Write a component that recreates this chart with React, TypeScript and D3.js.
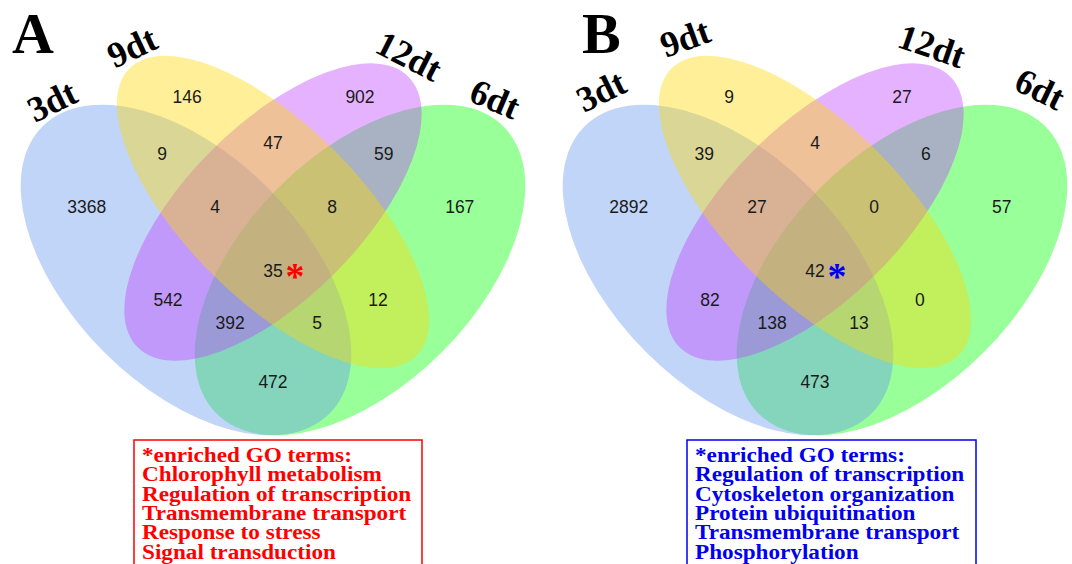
import React from 'react';
import * as d3 from 'd3';

// ---- data ----
const categories = ['3dt', '9dt', '12dt', '6dt'];
const regionKeys = ['A', 'B', 'C', 'D', 'AB', 'BC', 'CD', 'ABC', 'BCD', 'ABCD', 'AC', 'BD', 'ACD', 'ABD', 'AD'];
const countsA = [3368, 146, 902, 167, 9, 47, 59, 4, 8, 35, 542, 12, 392, 5, 472];
const countsB = [2892, 9, 27, 57, 39, 4, 6, 27, 0, 42, 82, 0, 138, 13, 473];
const goTermsA = ['Chlorophyll metabolism', 'Regulation of transcription', 'Transmembrane transport', 'Response to stress', 'Signal transduction'];
const goTermsB = ['Regulation of transcription', 'Cytoskeleton organization', 'Protein ubiquitination', 'Transmembrane transport', 'Phosphorylation'];
const goHeader = '*enriched GO terms:';
const panelLetters = ['A', 'B'];

// ---- layout (unit venn coordinates, y up) ----
const setColors = ['#6495ED', '#FFD700', '#BF3EFF', '#00FF00'];
const ellipses = [
  { cx: 0.35, cy: 0.47, a: 0.35, b: 0.2, rot: 45 },
  { cx: 0.5, cy: 0.57, a: 0.35, b: 0.15, rot: 45 },
  { cx: 0.5, cy: 0.57, a: 0.33, b: 0.15, rot: -45 },
  { cx: 0.65, cy: 0.47, a: 0.35, b: 0.2, rot: -45 },
];
const drawOrder = [3, 0, 2, 1];
const regionPos: Record<string, [number, number]> = {
  A: [0.179, 0.579], B: [0.352, 0.768], C: [0.65, 0.768], D: [0.822, 0.579],
  AB: [0.309, 0.67], BC: [0.5, 0.689], CD: [0.691, 0.67],
  ABC: [0.4, 0.579], BCD: [0.602, 0.579], ABCD: [0.5, 0.468],
  AC: [0.319, 0.418], BD: [0.681, 0.418], ACD: [0.426, 0.379], ABD: [0.576, 0.379], AD: [0.5, 0.277],
};

const panels = [
  {
    cx: 273, counts: countsA, terms: goTermsA, color: '#ff0000', letterX: 12,
    boxX: 134, boxW: 288,
    cat: [[52, 101, -26], [132, 47, -25], [409, 56, 27], [495, 99, 23]],
  },
  {
    cx: 815, counts: countsB, terms: goTermsB, color: '#0000ee', letterX: 582,
    boxX: 687, boxW: 289,
    cat: [[601, 91, -26], [685, 38, -20], [932, 46, 19], [1040, 89, 26]],
  },
];

const W = 1072;
const H = 564;
const S = 580;

function Panel({ p, idx }: { p: typeof panels[0]; idx: number }) {
  const x = d3.scaleLinear().domain([0, 1]).range([p.cx - S / 2, p.cx + S / 2]);
  const y = d3.scaleLinear().domain([0, 1]).range([542.6, 542.6 - S]);
  const len = (v: number) => x(v) - x(0);
  const lineH = 19.3;
  return (
    <g>
      {drawOrder.map((i) => {
        const e = ellipses[i];
        return (
          <ellipse
            key={i}
            transform={`translate(${x(e.cx)},${y(e.cy)}) rotate(${e.rot})`}
            rx={len(e.a)}
            ry={len(e.b)}
            fill={setColors[i]}
            fillOpacity={0.4}
          />
        );
      })}
      {regionKeys.map((k, i) => {
        const [ux, uy] = regionPos[k];
        return (
          <text
            key={k}
            x={x(ux)}
            y={y(uy)}
            dy="0.36em"
            textAnchor="middle"
            fontFamily="'Liberation Sans', Arial, sans-serif"
            fontSize={17.5}
            fill="#1a1a1a"
          >
            {p.counts[i]}
          </text>
        );
      })}
      <text
        x={x(regionPos.ABCD[0]) + 22}
        y={y(regionPos.ABCD[1]) + 18}
        textAnchor="middle"
        fontFamily="'Liberation Serif', 'Times New Roman', serif"
        fontWeight="bold"
        fontSize={38}
        fill={p.color}
      >
        *
      </text>
      {categories.map((c, i) => (
        <text
          key={c}
          transform={`translate(${p.cat[i][0]},${p.cat[i][1]}) rotate(${p.cat[i][2]})`}
          dy="0.34em"
          textAnchor="middle"
          fontFamily="'Liberation Serif', 'Times New Roman', serif"
          fontWeight="bold"
          fontSize={36}
          fill="#000"
        >
          {c}
        </text>
      ))}
      <text
        x={p.letterX}
        y={53}
        fontFamily="'Liberation Serif', 'Times New Roman', serif"
        fontWeight="bold"
        fontSize={58}
        fill="#000"
      >
        {panelLetters[idx]}
      </text>
      <rect x={p.boxX} y={440} width={p.boxW} height={140} fill="#fff" stroke={p.color} strokeWidth={1.5} />
      {[goHeader, ...p.terms].map((t, i) => (
        <text
          key={i}
          transform={`translate(${p.boxX + 8},${462 + i * lineH}) scale(1.16,1)`}
          fontFamily="'Liberation Serif', 'Times New Roman', serif"
          fontWeight="bold"
          fontSize={20}
          fill={p.color}
        >
          {t}
        </text>
      ))}
    </g>
  );
}

export default function App() {
  return (
    <svg
      width={W}
      height={H}
      viewBox={`0 0 ${W} ${H}`}
      style={{ position: 'absolute', left: 0, top: 0, background: '#fff' }}
    >
      <rect x={0} y={0} width={W} height={H} fill="#fff" />
      {panels.map((p, i) => (
        <Panel key={i} p={p} idx={i} />
      ))}
    </svg>
  );
}
